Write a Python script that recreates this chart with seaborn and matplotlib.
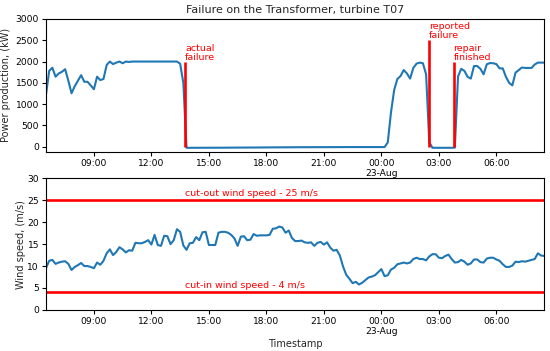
import matplotlib
matplotlib.use("Agg")
import matplotlib.pyplot as plt
import matplotlib.dates as mdates
import numpy as np
import pandas as pd
import seaborn as sns

# ---------------- data ----------------
start_time = "2017-08-22 06:30"
freq = "10min"

power_kw = [
    1220, 1780, 1855, 1645, 1720, 1760, 1820, 1550, 1255, 1420,
    1550, 1680, 1525, 1525, 1440, 1350, 1645, 1565, 1590, 1920,
    2000, 1940, 1975, 2000, 1960, 2000, 1990, 2000, 2000, 2000,
    2000, 2000, 2000, 2000, 2000, 2000, 2000, 2000, 2000, 2000,
    2000, 2000, 1950, 1500, -25, -25, -25, -25, -24, -25,
    -25, -24, -24, -23, -24, -23, -22, -23, -22, -21, -20, -20,
    -19, -20, -19, -18, -18, -17, -17, -16, -16, -15, -15, -14,
    -14, -13, -13, -12, -12, -12, -11, -11, -11, -10, -10, -10,
    -10, -10, -9, -9, -9, -9, -9, -8, -8, -8, -8, -8, -8, -8,
    -8, -8, -8, -8, -8, -8, -8, 100, 800, 1330, 1590, 1660,
    1800, 1720, 1600, 1850, 1950, 1975, 1960, 1700, 100, -25,
    -25, -25, -25, -25, -25, -25, -20, 1650, 1830, 1780, 1640,
    1600, 1895, 1895, 1830, 1700, 1935, 1965, 1960, 1940, 1840,
    1840, 1640, 1500, 1440, 1740, 1800, 1860, 1850, 1850, 1850,
    1930, 1975, 1975, 1975,
]

wind_ms = [
    9.5, 11.2, 11.4, 10.5, 10.8, 11.0, 11.1, 10.5, 9.1, 9.8,
    10.2, 10.7, 10.0, 10.0, 9.8, 9.5, 10.8, 10.3, 11.2, 12.9,
    13.8, 12.5, 13.2, 14.3, 13.8, 13.1, 13.6, 13.5, 15.3, 15.2,
    15.2, 15.5, 15.9, 14.9, 17.1, 14.8, 14.6, 16.9, 16.8, 15.0,
    15.9, 18.4, 17.8, 14.7, 13.7, 15.2, 15.3, 16.6, 15.9, 17.7,
    17.8, 14.8, 14.8, 14.8, 17.6, 17.8, 17.8, 17.6, 17.1, 16.3,
    14.6, 16.7, 16.8, 15.9, 16.0, 17.3, 16.9, 17.0, 17.0, 17.0,
    17.1, 18.5, 18.6, 19.0, 18.8, 17.6, 18.1, 16.4, 15.7, 15.7,
    15.8, 15.4, 15.3, 15.4, 14.6, 15.3, 15.5, 14.9, 15.4, 14.2,
    13.5, 13.7, 12.4, 9.9, 8.0, 7.1, 6.1, 6.4, 5.8, 6.2,
    6.8, 7.4, 7.6, 7.9, 8.6, 9.3, 7.7, 7.9, 9.2, 9.6,
    10.4, 10.6, 10.8, 10.6, 10.8, 11.6, 11.9, 11.6, 11.6, 11.3,
    12.2, 12.7, 12.7, 11.9, 11.8, 12.3, 12.6, 11.6, 10.8, 10.9,
    11.4, 11.0, 10.3, 10.6, 11.5, 11.5, 10.9, 10.8, 11.7, 11.9,
    11.9, 11.5, 11.2, 10.4, 9.8, 9.8, 10.1, 11.0, 10.9, 11.1,
    11.0, 11.2, 11.4, 11.6, 12.9, 12.4, 12.3,
]

event_times = ["2017-08-22 13:46", "2017-08-23 02:28", "2017-08-23 03:46"]
event_labels = ["actual\nfailure", "reported\nfailure", "repair\nfinished"]
event_tops = [2000, 2500, 2000]

limit_speeds = [25, 4]
limit_labels = ["cut-out wind speed - 25 m/s", "cut-in wind speed - 4 m/s"]

title = "Failure on the Transformer, turbine T07"

# ---------------- build ----------------
n = min(len(power_kw), len(wind_ms))
times = pd.date_range(start_time, periods=n, freq=freq)
df = pd.DataFrame({"Timestamp": times,
                   "power": power_kw[:n],
                   "wind": wind_ms[:n]})
ev = pd.to_datetime(event_times)

sns.set_theme(style="ticks")
plt.rcParams["font.family"] = ["DejaVu Sans"]
plt.rcParams["axes.edgecolor"] = "black"
plt.rcParams["axes.linewidth"] = 0.8
plt.rcParams["xtick.color"] = "black"
plt.rcParams["ytick.color"] = "black"

fs_tick = 6.6
fs_lab = 7.0
fs_ann = 6.8

fig = plt.figure(figsize=(5.5, 3.51), dpi=100)
ax1 = fig.add_axes([0.0836, 0.568, 0.906, 0.378])
ax2 = fig.add_axes([0.0836, 0.117, 0.906, 0.375])

blue = "#1f77b4"
red = "#ff0000"

sns.lineplot(data=df, x="Timestamp", y="power", ax=ax1, color=blue, lw=1.5)
sns.lineplot(data=df, x="Timestamp", y="wind", ax=ax2, color=blue, lw=1.5)

for t, lab, top in zip(ev, event_labels, event_tops):
    ax1.vlines(t, 0, top, color=red, lw=1.9, zorder=3)
    ax1.text(t, top, lab, color=red, fontsize=fs_ann, va="bottom", ha="left",
             linespacing=1.0)

for s, lab in zip(limit_speeds, limit_labels):
    ax2.axhline(s, color=red, lw=1.9)
    ax2.text(ev[0], s + 0.6, lab, color=red, fontsize=fs_ann, va="bottom", ha="left")

ax1.set_ylim(-115, 3000)
ax1.set_yticks([0, 500, 1000, 1500, 2000, 2500, 3000])
ax2.set_ylim(0, 30)
ax2.set_yticks([0, 5, 10, 15, 20, 25, 30])

def fmt(x, pos=None):
    d = mdates.num2date(x)
    if d.hour == 0:
        return d.strftime("%H:%M") + "\n" + d.strftime("%d-%b")
    return d.strftime("%H:%M")

for ax in (ax1, ax2):
    ax.set_xlim(times[0], times[-1])
    ax.xaxis.set_major_locator(mdates.HourLocator(byhour=[0, 3, 6, 9, 12, 15, 18, 21]))
    ax.xaxis.set_major_formatter(plt.FuncFormatter(fmt))
    ax.tick_params(labelsize=fs_tick, length=3, width=0.8, pad=2)
    for sp in ax.spines.values():
        sp.set_visible(True)

ax1.set_xlabel("")
ax1.set_ylabel("Power production, (kW)", fontsize=fs_lab, labelpad=3)
ax2.set_ylabel("Wind speed, (m/s)", fontsize=fs_lab, labelpad=1)
ax2.set_xlabel("Timestamp", fontsize=fs_lab, labelpad=2)
ax1.set_title(title, fontsize=8, pad=4)

fig.savefig("out.png", dpi=100)
